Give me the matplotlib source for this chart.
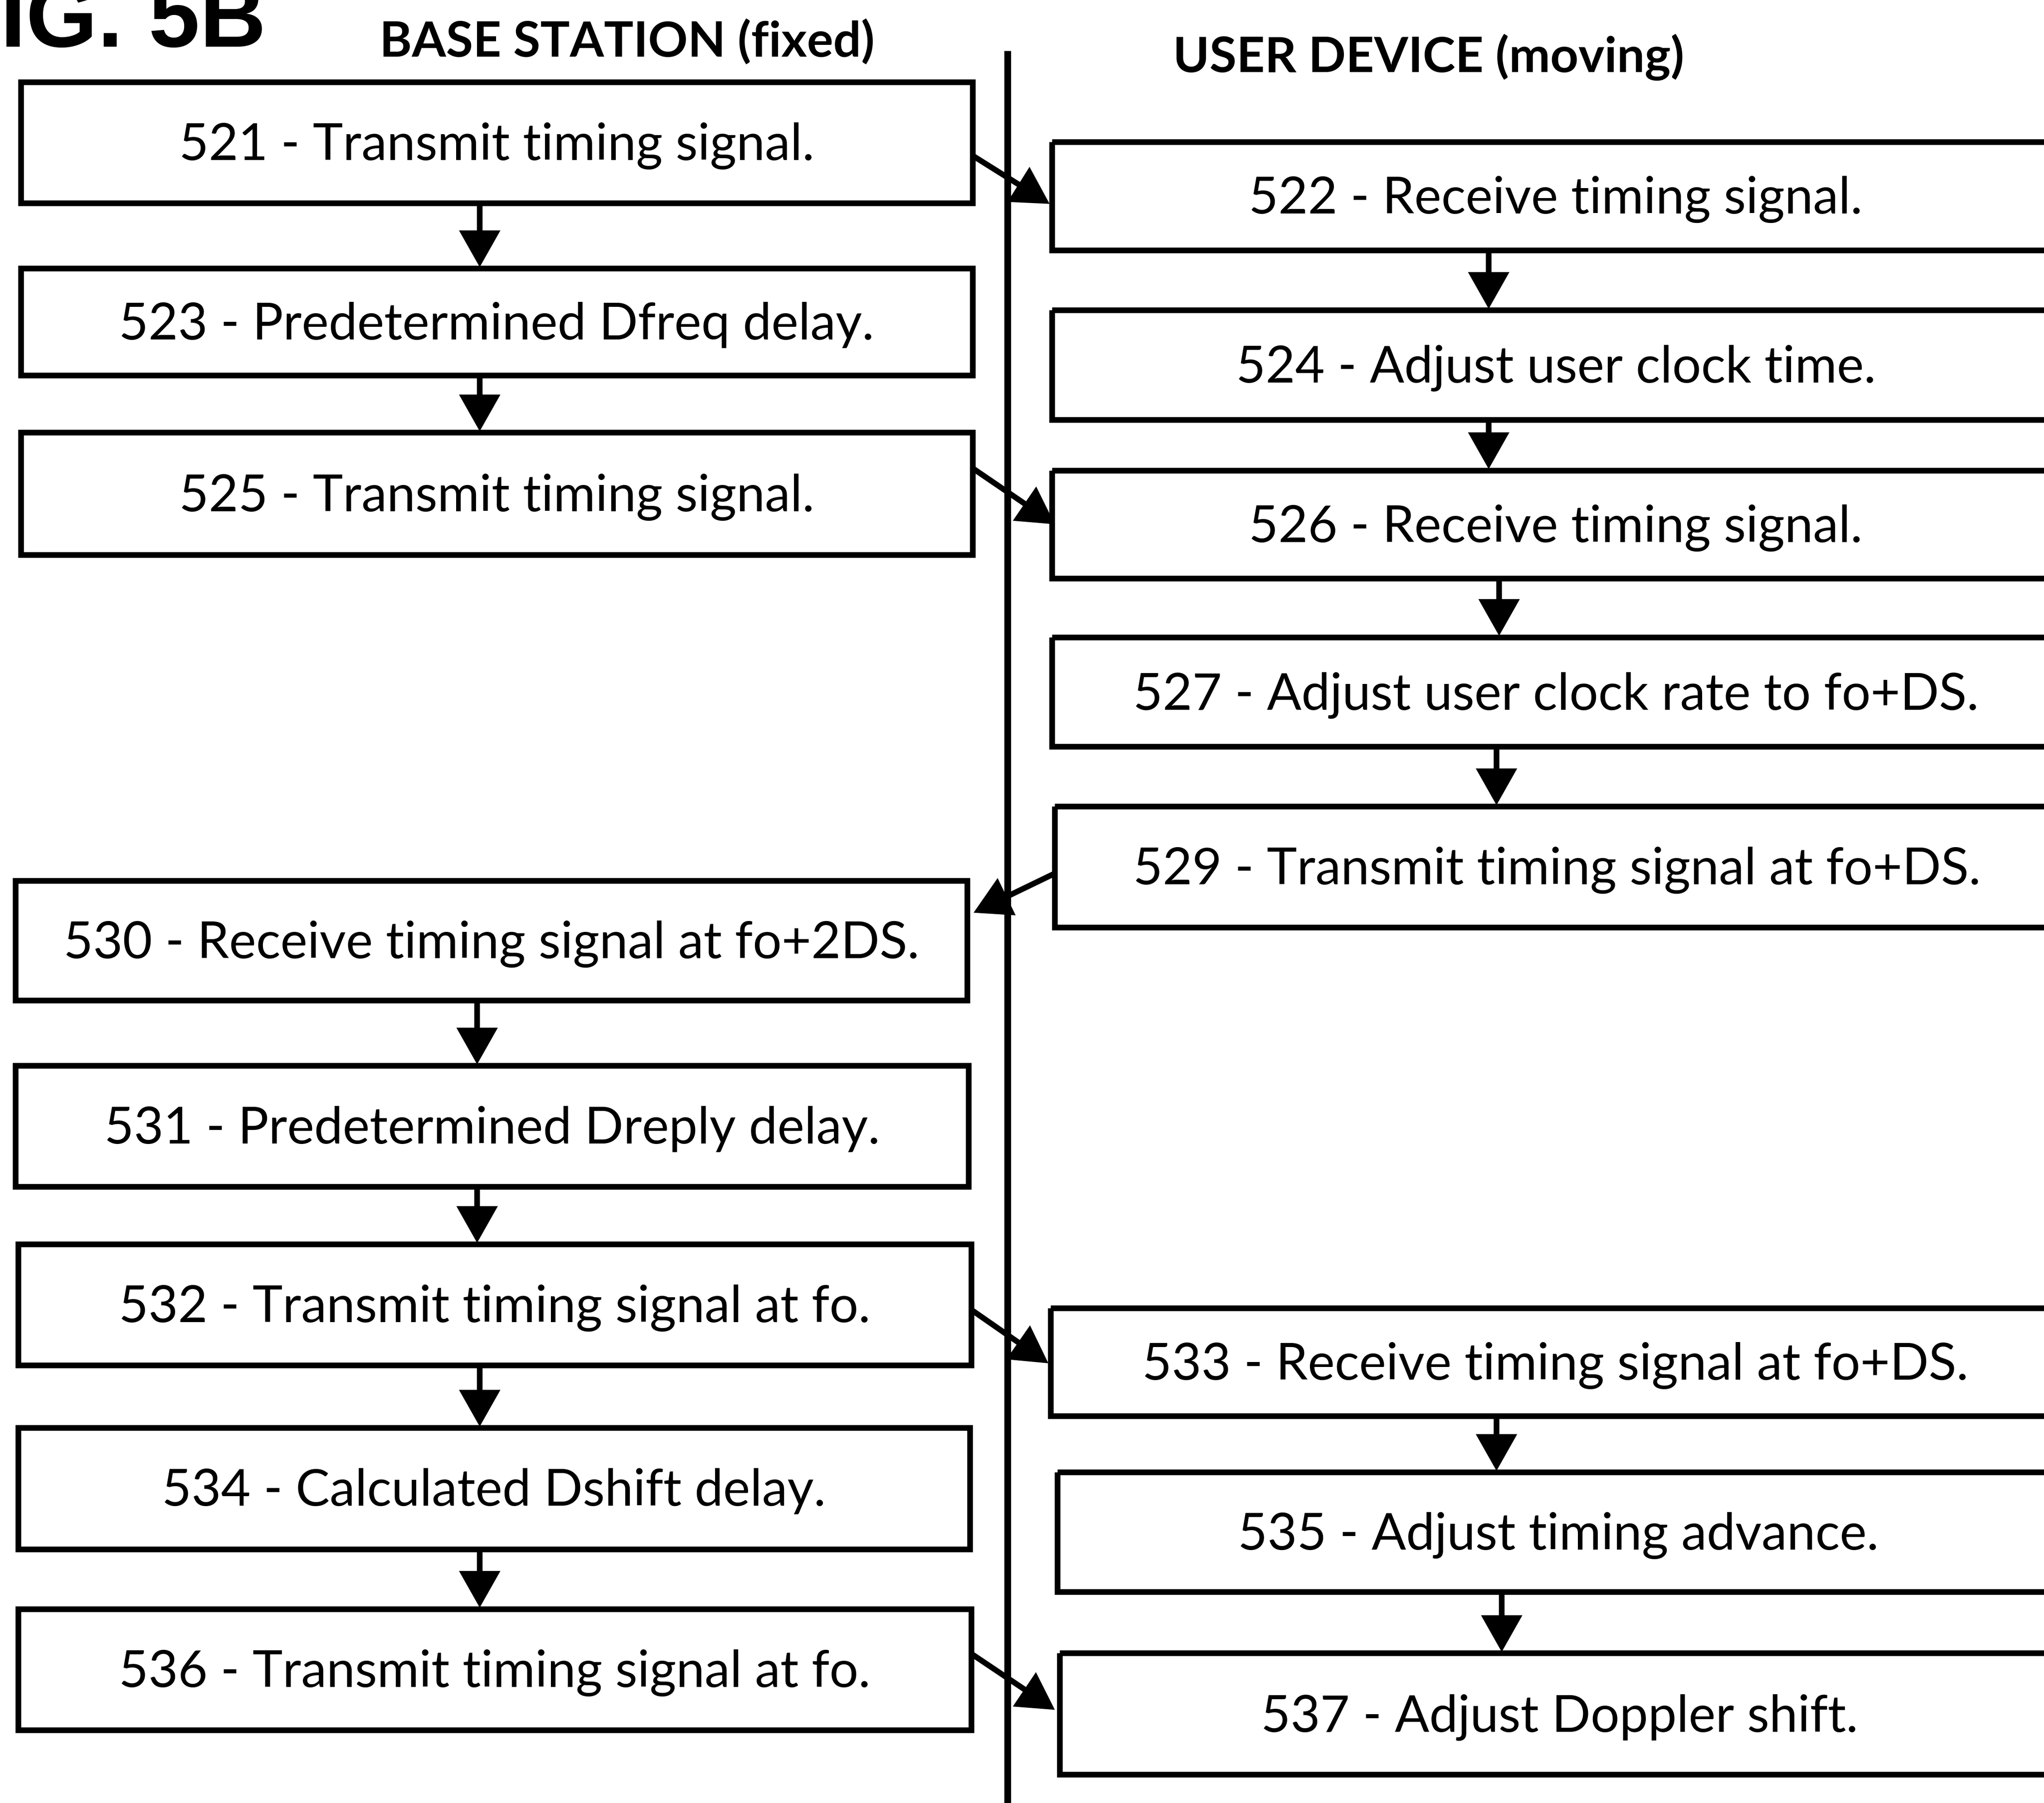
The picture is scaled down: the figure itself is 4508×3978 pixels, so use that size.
import matplotlib.pyplot as plt
from matplotlib.patches import Rectangle

# step labels, base station side (left) and user device side (right)
left_labels = [
    "521 - Transmit timing signal.",
    "523 - Predetermined Dfreq delay.",
    "525 - Transmit timing signal.",
    "530 - Receive timing signal at fo+2DS.",
    "531 - Predetermined Dreply delay.",
    "532 - Transmit timing signal at fo.",
    "534 - Calculated Dshift delay.",
    "536 - Transmit timing signal at fo.",
]
right_labels = [
    "522 - Receive timing signal.",
    "524 - Adjust user clock time.",
    "526 - Receive timing signal.",
    "527 - Adjust user clock rate to fo+DS.",
    "529 - Transmit timing signal at fo+DS.",
    "533 - Receive timing signal at fo+DS.",
    "535 - Adjust timing advance.",
    "537 - Adjust Doppler shift.",
]
headings = ["BASE STATION (fixed)", "USER DEVICE (moving)"]
fig_label = "FIG. 5B"

# layout (canvas units, 1568 x 1384, y down)
left_boxes = [(16, 63, 746, 156), (16, 206, 746, 288), (16, 332, 746, 426),
              (12, 676, 742, 768), (12, 818, 743, 911), (14, 955, 745, 1048),
              (14, 1096, 744, 1189), (14, 1235, 745, 1328)]
right_boxes = [(807, 109, 1580, 192), (807, 238, 1580, 322), (807, 361, 1580, 444),
               (807, 489, 1580, 573), (809, 619, 1580, 712), (806, 1004, 1580, 1087),
               (811, 1130, 1580, 1222), (813, 1269, 1580, 1362)]
# x of the vertical connectors between consecutive boxes (None = no arrow)
left_vx = [368, 368, None, 366, 366, 368, 368]
right_vx = [1142, 1142, 1150, 1148, None, 1148, 1152]
# cross arrows: (x0, y0, x1, y1)
cross = [(747, 120, 806, 157), (747, 360, 810, 403), (808, 671, 746, 701),
         (746, 1006, 805, 1047), (746, 1270, 810, 1313)]

W, H = 1568, 1384
fig = plt.figure(figsize=(45.08, 39.78), dpi=100)
ax = fig.add_axes([0, 0, 1, 1])
ax.set_xlim(0, W)
ax.set_ylim(H, 0)
ax.axis("off")

box_lw = 9
body_font = dict(family="Lato", fontsize=81, color="black")
arrow_kw = dict(arrowstyle="-|>,head_length=0.62,head_width=0.35",
                mutation_scale=72, lw=9, color="black",
                shrinkA=0, shrinkB=2, joinstyle="miter", capstyle="butt")

# center divider
ax.plot([773, 773], [39, H + 5], color="black", lw=10.8, solid_capstyle="butt")


def draw_column(labels, boxes, vx):
    for lab, (x0, y0, x1, y1) in zip(labels, boxes):
        ax.add_patch(Rectangle((x0, y0), x1 - x0, y1 - y0, fill=False,
                               edgecolor="black", lw=box_lw, joinstyle="miter"))
        ax.text((x0 + x1) / 2, (y0 + y1) / 2 - 1, lab, ha="center",
                va="center_baseline", **body_font)
    for i, x in enumerate(vx):
        if x is None:
            continue
        ya = boxes[i][3]
        yb = boxes[i + 1][1]
        ax.annotate("", xy=(x, yb), xytext=(x, ya), arrowprops=arrow_kw)


draw_column(left_labels, left_boxes, left_vx)
draw_column(right_labels, right_boxes, right_vx)

for x0, y0, x1, y1 in cross:
    ax.annotate("", xy=(x1, y1), xytext=(x0, y0), arrowprops=arrow_kw)

ax.text(481, 32, headings[0], ha="center", va="center", family="Lato",
        fontsize=78, fontweight="bold")
ax.text(1096, 44, headings[1], ha="center", va="center", family="Lato",
        fontsize=78, fontweight="bold")
# the figure label is cut by the left/top edge in the original drawing
ax.text(204, 36, fig_label, ha="right", va="baseline",
        family="Liberation Sans", fontweight="bold", fontsize=146)

fig.savefig("out.png", dpi=100, facecolor="white")
